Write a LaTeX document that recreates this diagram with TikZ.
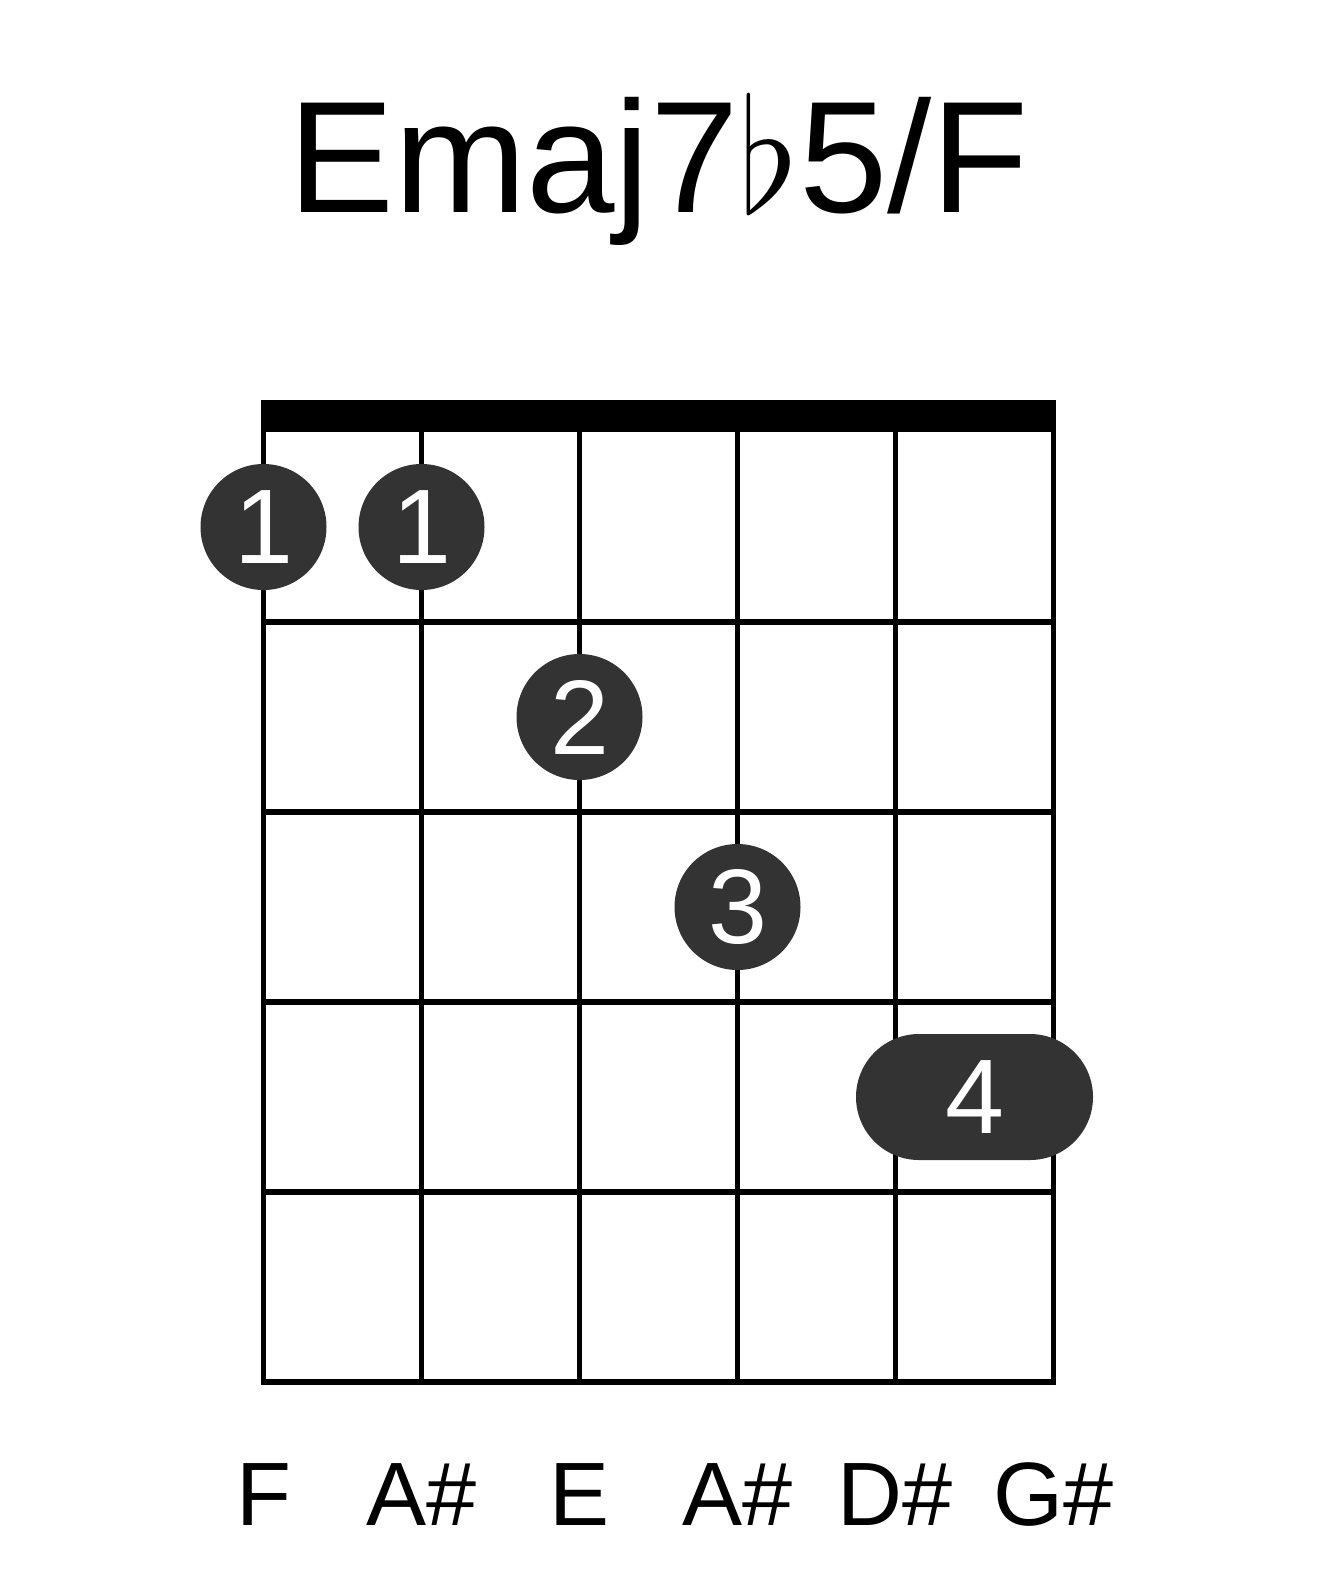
\RequirePackage{fix-cm}
\documentclass[tikz,border=0pt]{standalone}
\usepackage{fontspec}
\setmainfont{Liberation Sans}
\usetikzlibrary{positioning}
\definecolor{oscuro}{HTML}{333333}

\begin{document}
\begin{tikzpicture}[
    x=1pt,y=-1pt,line cap=rect,
    cuerda/.style={line width=5pt,black},
    traste/.style={line width=5.5pt,black},
    dedo/.style={circle,fill=oscuro,text=white,inner sep=0pt,minimum size=126pt,
                 font=\fontsize{106}{106}\selectfont},
    barra/.style={rectangle,rounded corners=63pt,fill=oscuro,text=white,inner sep=0pt,
                  minimum width=237pt,minimum height=126pt,font=\fontsize{106}{106}\selectfont},
    nota/.style={anchor=base,font=\fontsize{90}{90}\selectfont}]
  \useasboundingbox (0,0) rectangle (1317,1581);
  % --- nombre del acorde
  \node[anchor=base,font=\fontsize{159}{159}\selectfont] (titulo)
    at (658.5,212) {Emaj7$\flat$5/F};
  % --- cejuela
  \fill (261,400) rectangle (1056,432);
  % --- trastes y cuerdas
  \foreach \t in {1,...,5}
    \draw[traste] (263.5,432+190*\t) -- (1053.5,432+190*\t);
  \foreach \c in {0,...,5}
    \draw[cuerda] (263.5+158*\c,432) -- (263.5+158*\c,1382);
  % --- dedos
  \node[dedo] (dedoA) at (263.5,527) {1};
  \node[dedo] (dedoB) at (421.5,527) {1};
  \node[dedo] (dedoC) at (579.5,717) {2};
  \node[dedo] (dedoD) at (737.5,907) {3};
  \node[barra] (dedoE) at (974.5,1097) {4};
  % --- notas al pie
  \foreach \n [count=\i from 0] in {F,A\#,E,A\#,D\#,G\#}
    \node[nota] (nota\i) at (263.5+158*\i,1525) {\n};
\end{tikzpicture}
\end{document}
